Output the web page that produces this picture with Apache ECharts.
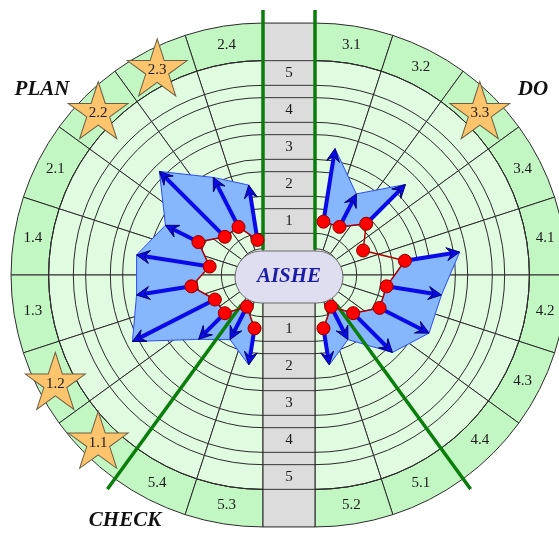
<!DOCTYPE html>
<html>
<head>
<meta charset="utf-8">
<script src="https://cdn.jsdelivr.net/npm/echarts@6/dist/echarts.min.js"></script>
<style>
html,body{margin:0;padding:0;background:#ffffff;}
#chart{width:559px;height:534px;}
</style>
</head>
<body>
<div id="chart"></div>
<script>
// Sector names of each half, 18 degrees apiece, counted from the top
const leftSectors  = ['2.4','2.3','2.2','2.1','1.4','1.3','1.2','1.1','5.4','5.3'];
const rightSectors = ['3.1','3.2','3.3','3.4','4.1','4.2','4.3','4.4','5.1','5.2'];
// Current level (red dots)
const leftStart  = [0.5, 1, 1, 1.5, 1, 1.5, 1, 1, 0.5, 1];
const rightStart = [1, 1, 1.5, 1, 2, 1.5, 1.5, 1, 0.5, 1];
// Target level (arrow tips)
const leftEnd  = [2, 2.5, 3.5, 2.5, 3, 3, 3.5, 2, 1.5, 2];
const rightEnd = [3, 2, 3, 1, 3.5, 3, 3, 2.5, 1.5, 2];
// Elements marked with a star
const starred = ['2.3', '2.2', '3.3', '1.2', '1.1'];
// Level scale in the centre column
const levelTicks = [1, 2, 3, 4, 5];
// Angles (from the top) of the green phase dividers
const dividerAngles = [0, 144];

// ---- layout ----
const CY = 275;
const CENTER_L = [263, CY];
const CENTER_R = [315, CY];
const STRIP_W = CENTER_R[0] - CENTER_L[0];
const PX_PER_LEVEL = 37;
const R_ZERO = 17;
const LEVEL_MAX = 6.7;
const BAND_IN = 5 + 1 / 3;
const BAND_OUT = 6.35;
const LABEL_L = 5.84;
const CORE_L = 0.25;
const STEP = 18;
const SERIF = '"Liberation Serif","Times New Roman",serif';

const halves = [
  { names: leftSectors, start: leftStart, end: leftEnd },
  { names: rightSectors, start: rightStart, end: rightEnd }
];
const ringLevels = [];
levelTicks.forEach(k => { ringLevels.push(k - 1 / 3, k + 1 / 3); });
const mid = i => STEP * i + STEP / 2;

function backgroundSeries(h) {
  return {
    type: 'custom', coordinateSystem: 'polar', polarIndex: h, z: 1, silent: true,
    data: halves[h].names.map((n, i) => [BAND_OUT, mid(i)]),
    renderItem(params, api) {
      const cs = params.coordSys;
      const i = params.dataIndex;
      const t1 = STEP * i, t2 = STEP * (i + 1);
      const arc = L => {
        const a = api.coord([L, t1]), b = api.coord([L, t2]);
        return { r: a[2], s: -a[3], e: -b[3] };
      };
      const band = arc(BAND_OUT), inner = arc(BAND_IN), core = arc(CORE_L);
      const cw = band.e > band.s;
      const children = [
        { type: 'sector', shape: { cx: cs.cx, cy: cs.cy, r0: inner.r, r: band.r, startAngle: band.s, endAngle: band.e, clockwise: cw },
          style: { fill: '#c2f6c2', stroke: '#2b2b2b', lineWidth: 1 } },
        { type: 'sector', shape: { cx: cs.cx, cy: cs.cy, r0: core.r, r: inner.r, startAngle: band.s, endAngle: band.e, clockwise: cw },
          style: { fill: '#e0fbe0', stroke: '#2b2b2b', lineWidth: 1 } }
      ];
      ringLevels.forEach(L => {
        const a = arc(L);
        children.push({ type: 'arc', shape: { cx: cs.cx, cy: cs.cy, r: a.r, startAngle: a.s, endAngle: a.e, clockwise: cw },
          style: { stroke: '#2b2b2b', lineWidth: 1, fill: 'none' } });
      });
      const name = halves[h].names[i];
      if (starred.indexOf(name) < 0) {
        const p = api.coord([LABEL_L, mid(i)]);
        children.push({ type: 'text', x: p[0], y: p[1],
          style: { text: name, font: '15px ' + SERIF, fill: '#1a1a1a',
            align: 'center', verticalAlign: 'middle', textAlign: 'center', textVerticalAlign: 'middle' } });
      }
      return { type: 'group', children };
    }
  };
}

function stripSeries() {
  return {
    type: 'custom', coordinateSystem: 'polar', polarIndex: 0, z: 2, silent: true,
    data: [[BAND_OUT, 0]],
    renderItem(params, api) {
      const top = api.coord([BAND_OUT, 0]), bot = api.coord([BAND_OUT, 180]);
      const x = top[0];
      const children = [{ type: 'rect', shape: { x, y: top[1], width: STRIP_W, height: bot[1] - top[1] },
        style: { fill: '#dcdcdc', stroke: '#222', lineWidth: 1 } }];
      ringLevels.forEach(L => {
        [0, 180].forEach(t => {
          const y = api.coord([L, t])[1];
          children.push({ type: 'line', shape: { x1: x, y1: y, x2: x + STRIP_W, y2: y }, style: { stroke: '#333', lineWidth: 1 } });
        });
      });
      levelTicks.forEach(k => {
        [0, 180].forEach(t => {
          const y = api.coord([k, t])[1];
          children.push({ type: 'text', x: x + STRIP_W / 2, y,
            style: { text: String(k), font: '15px ' + SERIF, fill: '#1a1a1a',
              align: 'center', verticalAlign: 'middle', textAlign: 'center', textVerticalAlign: 'middle' } });
        });
      });
      return { type: 'group', children };
    }
  };
}

function runsOf(h) {
  const runs = []; let cur = [];
  halves[h].end.forEach((e, i) => {
    if (e > halves[h].start[i]) cur.push(i);
    else { if (cur.length) runs.push(cur); cur = []; }
  });
  if (cur.length) runs.push(cur);
  return runs;
}

function areaSeries(h) {
  const runs = runsOf(h);
  const d = halves[h];
  return {
    type: 'custom', coordinateSystem: 'polar', polarIndex: h, z: 3, silent: true,
    data: runs.map(r => [d.end[r[0]], mid(r[0])]),
    renderItem(params, api) {
      const run = runs[params.dataIndex];
      const pts = run.map(i => api.coord([d.end[i], mid(i)]).slice(0, 2))
        .concat(run.slice().reverse().map(i => api.coord([d.start[i], mid(i)]).slice(0, 2)));
      return { type: 'polygon', shape: { points: pts }, style: { fill: '#86b6fb', stroke: '#2d4cff', lineWidth: 1 } };
    }
  };
}

function dividerSeries(h) {
  const data = [];
  dividerAngles.forEach((a, j) => {
    if (j) data.push('-');
    data.push([a === 0 ? 0.22 : 0.54, a], [LEVEL_MAX, a]);
  });
  return {
    type: 'line', coordinateSystem: 'polar', polarIndex: h, z: 4, silent: true,
    symbol: 'none', data, connectNulls: false,
    lineStyle: { color: '#0b7d0b', width: 3.5 }
  };
}

function arrowSeries(h) {
  const d = halves[h];
  return {
    type: 'custom', coordinateSystem: 'polar', polarIndex: h, z: 5, silent: true,
    data: d.end.map((e, i) => [e, mid(i)]),
    renderItem(params, api) {
      const i = params.dataIndex;
      const s = d.start[i], e = d.end[i];
      if (!(e > s)) return { type: 'group', children: [] };
      const p0 = api.coord([s, mid(i)]), p1 = api.coord([e, mid(i)]);
      const dx = p1[0] - p0[0], dy = p1[1] - p0[1], len = Math.hypot(dx, dy);
      const ux = dx / len, uy = dy / len, nx = -uy, ny = ux;
      const HL = 13, HW = 6.5, NOTCH = 8;
      const tip = [p1[0], p1[1]];
      const base = [tip[0] - ux * HL, tip[1] - uy * HL];
      const notch = [tip[0] - ux * NOTCH, tip[1] - uy * NOTCH];
      return { type: 'group', children: [
        { type: 'line', shape: { x1: p0[0], y1: p0[1], x2: notch[0], y2: notch[1] }, style: { stroke: '#0a0ae8', lineWidth: 4 } },
        { type: 'polygon', shape: { points: [tip, [base[0] + nx * HW, base[1] + ny * HW], notch, [base[0] - nx * HW, base[1] - ny * HW]] },
          style: { fill: '#0a0ae8', stroke: '#00006a', lineWidth: 1 } }
      ] };
    }
  };
}

function dotSeries(h) {
  const d = halves[h];
  return {
    type: 'line', coordinateSystem: 'polar', polarIndex: h, z: 6, silent: true,
    data: d.start.map((s, i) => [s, mid(i)]),
    symbol: 'circle', symbolSize: 13,
    itemStyle: { color: '#ff0000', borderColor: '#8a0000', borderWidth: 1 },
    lineStyle: { color: '#b00000', width: 1.5 }
  };
}

const STAR = 'path://M50 0 L61.23 34.55 L97.55 34.55 L68.17 55.9 L79.39 90.45 L50 69.1 L20.61 90.45 L31.83 55.9 L2.45 34.55 L38.77 34.55 Z';
function starSeries(h) {
  const d = halves[h];
  const data = [];
  d.names.forEach((n, i) => { if (starred.indexOf(n) >= 0) data.push({ name: n, value: [LABEL_L, mid(i)] }); });
  return {
    type: 'scatter', coordinateSystem: 'polar', polarIndex: h, z: 7, silent: true,
    symbol: STAR, symbolSize: [60, 57], data,
    itemStyle: { color: '#fcc46c', borderColor: '#6e5e44', borderWidth: 1, opacity: 1 },
    label: { show: true, position: 'inside', formatter: p => p.name, fontSize: 15, fontFamily: SERIF, color: '#1a1a1a', offset: [0, 3] }
  };
}

const chart = echarts.init(document.getElementById('chart'));
const axisOff = { show: false, axisLine: { show: false }, axisTick: { show: false }, axisLabel: { show: false }, splitLine: { show: false }, splitArea: { show: false } };
const series = [stripSeries()];
[0, 1].forEach(h => {
  series.push(backgroundSeries(h), areaSeries(h), dividerSeries(h), arrowSeries(h), dotSeries(h), starSeries(h));
});

chart.setOption({
  animation: false,
  polar: [
    { center: CENTER_L, radius: [R_ZERO, R_ZERO + PX_PER_LEVEL * LEVEL_MAX] },
    { center: CENTER_R, radius: [R_ZERO, R_ZERO + PX_PER_LEVEL * LEVEL_MAX] }
  ],
  radiusAxis: [
    Object.assign({ polarIndex: 0, type: 'value', min: 0, max: LEVEL_MAX }, axisOff),
    Object.assign({ polarIndex: 1, type: 'value', min: 0, max: LEVEL_MAX }, axisOff)
  ],
  angleAxis: [
    Object.assign({ polarIndex: 0, type: 'value', min: 0, max: 360, startAngle: 90, clockwise: false }, axisOff),
    Object.assign({ polarIndex: 1, type: 'value', min: 0, max: 360, startAngle: 90, clockwise: true }, axisOff)
  ],
  series,
  graphic: [
    { type: 'rect', z: 50, shape: { x: CENTER_L[0] - 28, y: CY - 24, width: STRIP_W + 56, height: 52, r: 26 },
      style: { fill: '#dedef0', stroke: '#6a6a6a', lineWidth: 1 } },
    { type: 'text', z: 51, x: (CENTER_L[0] + CENTER_R[0]) / 2, y: CY + 2,
      style: { text: 'AISHE', font: 'italic bold 21px ' + SERIF, fill: '#1c1ca6',
        align: 'center', verticalAlign: 'middle', textAlign: 'center', textVerticalAlign: 'middle' } },
    { type: 'text', z: 51, x: 42, y: 90,
      style: { text: phaseNames0(), font: 'italic bold 21px ' + SERIF, fill: '#111',
        align: 'center', verticalAlign: 'middle', textAlign: 'center', textVerticalAlign: 'middle' } },
    { type: 'text', z: 51, x: 533, y: 90,
      style: { text: 'DO', font: 'italic bold 21px ' + SERIF, fill: '#111',
        align: 'center', verticalAlign: 'middle', textAlign: 'center', textVerticalAlign: 'middle' } },
    { type: 'text', z: 51, x: 125, y: 521,
      style: { text: 'CHECK', font: 'italic bold 21px ' + SERIF, fill: '#111',
        align: 'center', verticalAlign: 'middle', textAlign: 'center', textVerticalAlign: 'middle' } }
  ]
});
function phaseNames0() { return 'PLAN'; }
</script>
</body>
</html>
